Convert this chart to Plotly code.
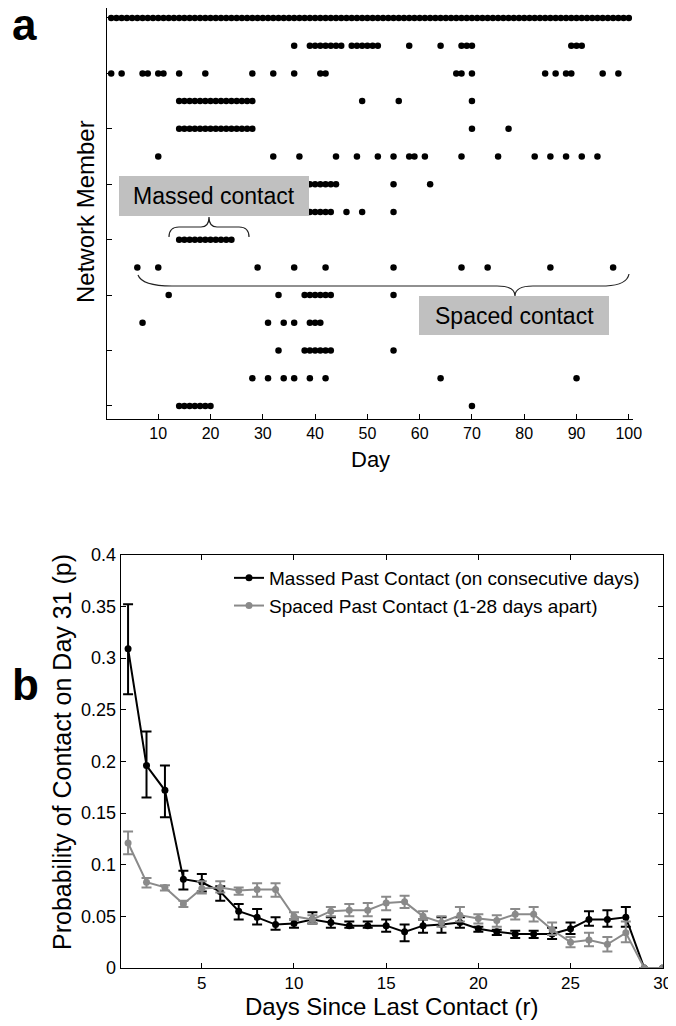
import plotly.graph_objects as go

# ---------------- Panel a data: contact days per network member (member 15 = top row) ----------------
member_15 = [1, 2, 3, 4, 5, 6, 7, 8, 9, 10, 11, 12, 13, 14, 15, 16, 17, 18, 19, 20,
             21, 22, 23, 24, 25, 26, 27, 28, 29, 30, 31, 32, 33, 34, 35, 36, 37, 38, 39, 40,
             41, 42, 43, 44, 45, 46, 47, 48, 49, 50, 51, 52, 53, 54, 55, 56, 57, 58, 59, 60,
             61, 62, 63, 64, 65, 66, 67, 68, 69, 70, 71, 72, 73, 74, 75, 76, 77, 78, 79, 80,
             81, 82, 83, 84, 85, 86, 87, 88, 89, 90, 91, 92, 93, 94, 95, 96, 97, 98, 99, 100]
member_14 = [36, 39, 40, 41, 42, 43, 44, 45, 47, 48, 49, 50, 51, 52, 58, 64, 68, 69, 70, 89, 90, 91]
member_13 = [1, 3, 7, 8, 10, 11, 14, 19, 28, 32, 36, 41, 42, 67, 68, 70, 84, 86, 88, 89, 95, 98]
member_12 = [14, 15, 16, 17, 18, 19, 20, 21, 22, 23, 24, 25, 26, 27, 28, 49, 56, 70]
member_11 = [14, 15, 16, 17, 18, 19, 20, 21, 22, 23, 24, 25, 26, 27, 28, 70, 77]
member_10 = [10, 32, 37, 44, 48, 52, 55, 58, 59, 61, 68, 75, 82, 85, 88, 91, 94]
member_9 = [39, 40, 41, 42, 43, 44, 55, 62]
member_8 = [39, 40, 41, 42, 43, 46, 49, 55]
member_7 = [14, 15, 16, 17, 18, 19, 20, 21, 22, 23, 24]
member_6 = [6, 10, 29, 36, 42, 55, 68, 73, 85, 97]
member_5 = [12, 33, 38, 39, 40, 41, 42, 43, 55]
member_4 = [7, 31, 34, 36, 39, 40, 41]
member_3 = [33, 38, 39, 40, 41, 42, 43, 55]
member_2 = [28, 31, 34, 36, 39, 42, 64, 90]
member_1 = [14, 15, 16, 17, 18, 19, 20, 70]

members = [member_1, member_2, member_3, member_4, member_5, member_6, member_7, member_8,
           member_9, member_10, member_11, member_12, member_13, member_14, member_15]

day_ticks = [10, 20, 30, 40, 50, 60, 70, 80, 90, 100]
member_ticks = [1, 3, 5, 7, 9, 11, 13, 15]

# ---------------- Panel b data ----------------
r_days = [1, 2, 3, 4, 5, 6, 7, 8, 9, 10, 11, 12, 13, 14, 15,
          16, 17, 18, 19, 20, 21, 22, 23, 24, 25, 26, 27, 28, 29, 30]

massed_p = [0.309, 0.196, 0.172, 0.086, 0.083, 0.074, 0.055, 0.049, 0.042, 0.043, 0.047, 0.044, 0.041, 0.041, 0.041,
            0.035, 0.041, 0.042, 0.044, 0.038, 0.035, 0.033, 0.033, 0.033, 0.038, 0.047, 0.047, 0.049, 0.0, 0.0]
massed_hi = [0.352, 0.229, 0.196, 0.094, 0.091, 0.079, 0.062, 0.057, 0.049, 0.047, 0.054, 0.049, 0.045, 0.045, 0.047,
             0.042, 0.047, 0.049, 0.049, 0.040, 0.037, 0.036, 0.036, 0.039, 0.044, 0.055, 0.056, 0.059, 0.0, 0.0]
massed_lo = [0.265, 0.165, 0.146, 0.076, 0.074, 0.065, 0.047, 0.042, 0.037, 0.039, 0.043, 0.039, 0.039, 0.039, 0.035,
             0.026, 0.034, 0.034, 0.039, 0.035, 0.032, 0.029, 0.029, 0.028, 0.033, 0.041, 0.040, 0.040, 0.0, 0.0]

spaced_p = [0.121, 0.083, 0.078, 0.062, 0.077, 0.078, 0.075, 0.076, 0.076, 0.050, 0.047, 0.055, 0.056, 0.056, 0.063,
            0.064, 0.050, 0.044, 0.051, 0.048, 0.046, 0.052, 0.052, 0.037, 0.025, 0.027, 0.023, 0.034, 0.0, 0.0]
spaced_hi = [0.132, 0.087, 0.080, 0.065, 0.084, 0.084, 0.078, 0.082, 0.082, 0.054, 0.051, 0.059, 0.062, 0.063, 0.069,
             0.070, 0.055, 0.050, 0.059, 0.052, 0.051, 0.057, 0.059, 0.044, 0.030, 0.034, 0.030, 0.045, 0.0, 0.0]
spaced_lo = [0.110, 0.078, 0.075, 0.059, 0.072, 0.073, 0.071, 0.069, 0.069, 0.047, 0.043, 0.050, 0.050, 0.050, 0.056,
             0.058, 0.047, 0.040, 0.045, 0.043, 0.040, 0.047, 0.045, 0.032, 0.020, 0.021, 0.016, 0.025, 0.0, 0.0]

p_ticks = [0, 0.05, 0.1, 0.15, 0.2, 0.25, 0.3, 0.35, 0.4]
p_tick_text = ["0", "0.05", "0.1", "0.15", "0.2", "0.25", "0.3", "0.35", "0.4"]
r_ticks = [5, 10, 15, 20, 25, 30]

# ---------------- Layout helpers (page pixel -> paper) ----------------
# The page body has an 8px default margin, so the figure is sized and offset accordingly.
OFF = 8
W, H = 676 - OFF, 1026 - OFF
FONT = "Liberation Sans, Arial, sans-serif"


def fx(x):
    return min(1.0, max(0.0, (x - OFF) / W))


def fy(y):
    return min(1.0, max(0.0, 1 - (y - OFF) / H))


def path(cmds):
    out = []
    for c in cmds:
        if isinstance(c, str):
            out.append(c)
        else:
            out.append(f"{fx(c[0]):.5f},{fy(c[1]):.5f}")
    return " ".join(out)


fig = go.Figure()

# Panel a raster
xs, ys = [], []
for m, days in enumerate(members, start=1):
    for d in days:
        xs.append(d)
        ys.append(m)
fig.add_trace(go.Scatter(x=xs, y=ys, mode="markers", xaxis="x", yaxis="y",
                         marker=dict(color="black", size=6.5, line=dict(width=0)),
                         showlegend=False, hoverinfo="skip", cliponaxis=False))

# Panel b lines
def err(p, hi, lo):
    return [h - v for h, v in zip(hi, p)], [v - l for v, l in zip(p, lo)]

mu, ml = err(massed_p, massed_hi, massed_lo)
su, sl = err(spaced_p, spaced_hi, spaced_lo)

fig.add_trace(go.Scatter(x=r_days, y=massed_p, mode="lines+markers", xaxis="x2", yaxis="y2",
                         name="Massed Past Contact (on consecutive days)",
                         line=dict(color="black", width=2),
                         marker=dict(color="black", size=7),
                         error_y=dict(type="data", symmetric=False, array=mu, arrayminus=ml,
                                      color="black", thickness=2, width=5)))
GREY = "#8a8a8a"
fig.add_trace(go.Scatter(x=r_days, y=spaced_p, mode="lines+markers", xaxis="x2", yaxis="y2",
                         name="Spaced Past Contact (1-28 days apart)",
                         line=dict(color=GREY, width=2),
                         marker=dict(color=GREY, size=7),
                         error_y=dict(type="data", symmetric=False, array=su, arrayminus=sl,
                                      color=GREY, thickness=2, width=5)))

axis_common = dict(showgrid=False, zeroline=False, showline=True, linecolor="black", linewidth=1,
                   ticks="inside", tickcolor="black", ticklen=5, tickwidth=1, automargin=False)

shapes = [
    # Massed contact box
    dict(type="rect", xref="paper", yref="paper", x0=fx(119), x1=fx(309), y0=fy(216), y1=fy(176),
         fillcolor="#c0c0c0", line=dict(width=0), layer="above"),
    # Spaced contact box
    dict(type="rect", xref="paper", yref="paper", x0=fx(419), x1=fx(609), y0=fy(335), y1=fy(296),
         fillcolor="#c0c0c0", line=dict(width=0), layer="above"),
    # Massed brace (tip up)
    dict(type="path", xref="paper", yref="paper", layer="above",
         path=path(["M", (169, 237), "Q", (169, 227), (179, 227), "L", (201, 227),
                    "Q", (209, 227), (209, 217), "Q", (209, 227), (217, 227), "L", (239, 227),
                    "Q", (249, 227), (249, 237)]),
         line=dict(color="#222222", width=1.2)),
    # Spaced brace (tip down)
    dict(type="path", xref="paper", yref="paper", layer="above",
         path=path(["M", (138, 275), "Q", (142, 286), (172, 286), "L", (497, 286),
                    "Q", (515, 286), (515, 296), "Q", (515, 286), (533, 286), "L", (606, 286),
                    "Q", (627, 285), (629, 274)]),
         line=dict(color="#222222", width=1.2)),
]

annotations = [
    dict(text="Massed contact", x=fx(214), y=fy(196), xref="paper", yref="paper",
         showarrow=False, xanchor="center", yanchor="middle",
         font=dict(family=FONT, size=23, color="black")),
    dict(text="Spaced contact", x=fx(514), y=fy(316), xref="paper", yref="paper",
         showarrow=False, xanchor="center", yanchor="middle",
         font=dict(family=FONT, size=23, color="black")),
    dict(text="<b>a</b>", x=fx(24), y=fy(24), xref="paper", yref="paper",
         showarrow=False, xanchor="center", yanchor="middle",
         font=dict(family=FONT, size=44, color="black")),
    dict(text="<b>b</b>", x=fx(25), y=fy(684), xref="paper", yref="paper",
         showarrow=False, xanchor="center", yanchor="middle",
         font=dict(family=FONT, size=44, color="black")),
    dict(text="Day", x=fx(370), y=fy(459), xref="paper", yref="paper",
         showarrow=False, xanchor="center", yanchor="middle",
         font=dict(family=FONT, size=22, color="black")),
    dict(text="Network Member", x=fx(85), y=fy(212), xref="paper", yref="paper",
         showarrow=False, xanchor="center", yanchor="middle", textangle=-90,
         font=dict(family=FONT, size=24, color="black")),
    dict(text="Days Since Last Contact (r)", x=fx(391), y=fy(1006), xref="paper", yref="paper",
         showarrow=False, xanchor="center", yanchor="middle",
         font=dict(family=FONT, size=24, color="black")),
    dict(text="Probability of Contact on Day 31 (p)", x=fx(62), y=fy(752), xref="paper", yref="paper",
         showarrow=False, xanchor="center", yanchor="middle", textangle=-90,
         font=dict(family=FONT, size=25, color="black")),
]

fig.update_layout(
    width=W, height=H,
    margin=dict(l=0, r=0, t=0, b=0, pad=0, autoexpand=False),
    paper_bgcolor="white", plot_bgcolor="white",
    font=dict(family=FONT, color="black"),
    xaxis=dict(domain=[fx(107), fx(633)], range=[0.2, 100.8], tickvals=day_ticks,
               anchor="y", tickfont=dict(family=FONT, size=16, color="black"),
               ticklabeloverflow="allow", **axis_common),
    yaxis=dict(domain=[fy(419), 1.0], range=[0.53, 15.36], tickvals=member_ticks,
               showticklabels=False, anchor="x", **axis_common),
    xaxis2=dict(domain=[fx(120.7), fx(662.7)], range=[0.6, 30], tickvals=r_ticks,
                anchor="y2", mirror="ticks", tickfont=dict(family=FONT, size=17, color="black"),
                ticklabeloverflow="allow", **axis_common),
    yaxis2=dict(domain=[fy(968), fy(554.7)], range=[0, 0.4], tickvals=p_ticks, ticktext=p_tick_text,
                anchor="x2", mirror="ticks", tickfont=dict(family=FONT, size=18, color="black"),
                **axis_common),
    legend=dict(x=fx(229), y=fy(559), xanchor="left", yanchor="top",
                bgcolor="rgba(0,0,0,0)", borderwidth=0,
                font=dict(family=FONT, size=19, color="black"),
                tracegroupgap=0, itemwidth=30),
    shapes=shapes,
    annotations=annotations,
)

fig.write_html("out.html")
